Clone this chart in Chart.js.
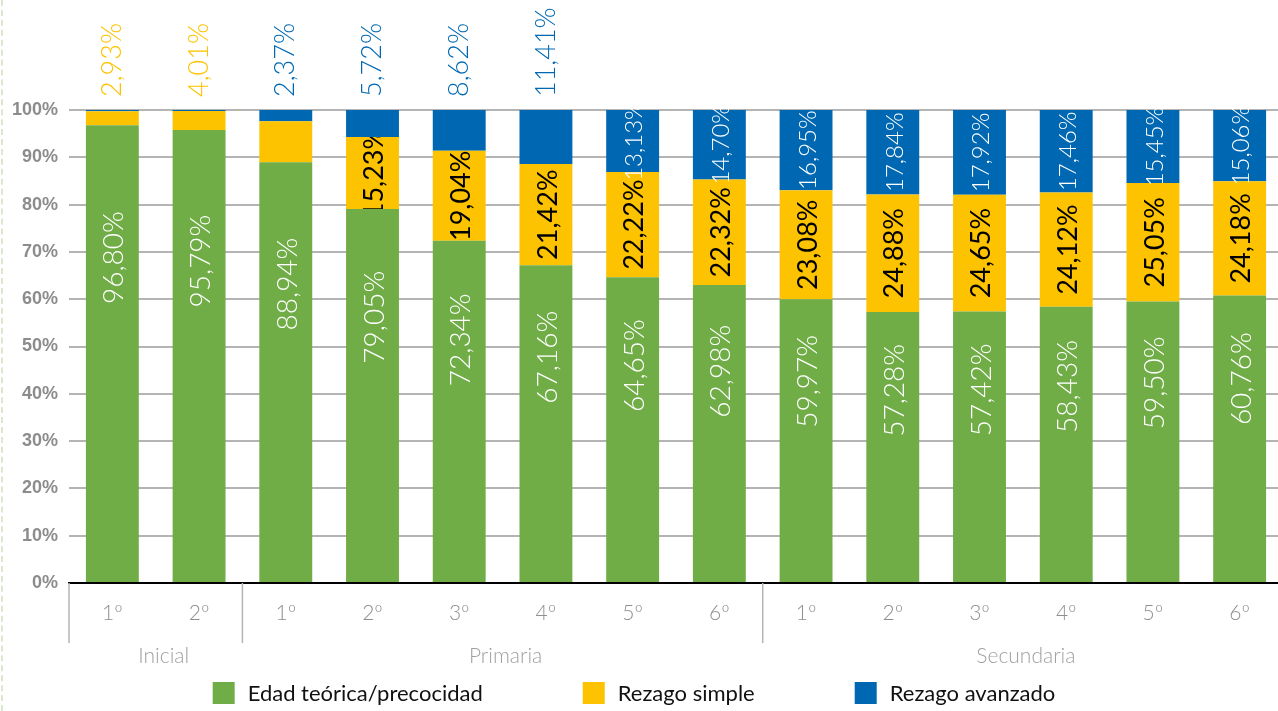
<!DOCTYPE html>
<html>
<head>
<meta charset="utf-8">
<script src="https://cdn.jsdelivr.net/npm/chart.js@4.4.1/dist/chart.umd.min.js"></script>
<style>
  body { margin: 0; overflow: hidden; background: #fff; }
  .wrap { position: relative; width: 1284px; height: 711px; }
  .edge { position: absolute; left: 1px; top: 0; height: 711px; border-left: 2px dashed #dbe8cf; }
</style>
</head>
<body>
<div class="wrap"><canvas id="myChart"></canvas></div>
<div class="edge"></div>
<script>
const grades = ['1º', '2º', '1º', '2º', '3º', '4º', '5º', '6º', '1º', '2º', '3º', '4º', '5º', '6º'];
const levels = ['Inicial', 'Primaria', 'Secundaria'];
const levelSizes = [2, 6, 6];
const edadTeorica = [96.80, 95.79, 88.94, 79.05, 72.34, 67.16, 64.65, 62.98, 59.97, 57.28, 57.42, 58.43, 59.50, 60.76];
const rezagoSimple = [2.93, 4.01, 8.69, 15.23, 19.04, 21.42, 22.22, 22.32, 23.08, 24.88, 24.65, 24.12, 25.05, 24.18];
const rezagoAvanzado = [0.27, 0.20, 2.37, 5.72, 8.62, 11.41, 13.13, 14.70, 16.95, 17.84, 17.92, 17.46, 15.45, 15.06];
const seriesNames = ['Edad teórica/precocidad', 'Rezago simple', 'Rezago avanzado'];

const green = '#70ad47';
const yellow = '#fdc300';
const blue = '#0068b3';
const fmt = v => v.toFixed(2).replace('.', ',') + '%';

// rotated label helper
const vert = (ctx, text, x, y, color, font, align) => {
    ctx.save();
    ctx.translate(x, y);
    ctx.rotate(-Math.PI / 2);
    ctx.textAlign = align || 'center';
    ctx.textBaseline = 'middle';
    ctx.fillStyle = color;
    ctx.font = font;
    ctx.fillText(text, 0, 0);
    ctx.restore();
};

const barLabels = {
    id: 'barLabels',
    afterDatasetsDraw(chart) {
        const { ctx, chartArea } = chart;
        const g = chart.getDatasetMeta(0).data;
        const s = chart.getDatasetMeta(1).data;
        const a = chart.getDatasetMeta(2).data;
        const above = chartArea.top - 13;
        grades.forEach((_, i) => {
            const gb = g[i];
            vert(ctx, fmt(edadTeorica[i]), gb.x + 2, gb.y + (gb.base - gb.y) * 0.29, '#fff', '300 28px Lato');

            const sb = s[i];
            if (rezagoSimple[i] > 10) {
                ctx.save();
                ctx.beginPath();
                ctx.rect(sb.x - 40, sb.y, 80, sb.base - sb.y);
                ctx.clip();
                vert(ctx, fmt(rezagoSimple[i]), sb.x + 2, (sb.y + sb.base) / 2, '#000', '400 27px Lato');
                ctx.restore();
            }

            const ab = a[i];
            if (rezagoAvanzado[i] < 1) {
                vert(ctx, fmt(rezagoSimple[i]), ab.x, above, yellow, '300 27px Lato', 'left');
            } else if (rezagoAvanzado[i] < 12) {
                vert(ctx, fmt(rezagoAvanzado[i]), ab.x, above, blue, '300 27px Lato', 'left');
            } else {
                vert(ctx, fmt(rezagoAvanzado[i]), ab.x + 2, (ab.y + ab.base) / 2, '#fff', '300 24px Lato');
            }
        });
    }
};

const groupAxis = {
    id: 'groupAxis',
    afterDraw(chart) {
        const { ctx, chartArea, scales: { x } } = chart;
        const step = x.getPixelForValue(1) - x.getPixelForValue(0);
        const bottom = chartArea.bottom;
        ctx.save();
        ctx.strokeStyle = '#b4b4b4';
        ctx.lineWidth = 1.5;
        const sep = px => {
            ctx.beginPath();
            ctx.moveTo(px, bottom);
            ctx.lineTo(px, bottom + 60);
            ctx.stroke();
        };
        ctx.font = '300 21px Lato';
        ctx.fillStyle = '#a0a0a0';
        ctx.textAlign = 'center';
        ctx.textBaseline = 'middle';
        let start = 0;
        sep(x.getPixelForValue(0) - step / 2);
        levels.forEach((name, k) => {
            const end = start + levelSizes[k] - 1;
            const left = x.getPixelForValue(start) - step / 2;
            const right = x.getPixelForValue(end) + step / 2;
            sep(right);
            ctx.fillText(name, (left + right) / 2 + (k === 0 ? 8 : 3), bottom + 73);
            start = end + 1;
        });
        ctx.restore();
    }
};

const bottomLegend = {
    id: 'bottomLegend',
    afterDraw(chart) {
        const { ctx } = chart;
        const box = 22, gapText = 13, gapItem = 100, cy = 693;
        ctx.save();
        ctx.font = '400 22px Lato';
        ctx.textBaseline = 'middle';
        ctx.textAlign = 'left';
        const items = chart.data.datasets.map(d => ({ text: d.label, color: d.backgroundColor, w: box + gapText + ctx.measureText(d.label).width }));
        const total = items.reduce((t, it) => t + it.w, 0) + gapItem * (items.length - 1);
        let x = 634 - total / 2;
        items.forEach(it => {
            ctx.fillStyle = it.color;
            ctx.fillRect(x, cy - box / 2, box, box);
            ctx.fillStyle = '#111';
            ctx.fillText(it.text, x + box + gapText, cy + 1);
            x += it.w + gapItem;
        });
        ctx.restore();
    }
};

Chart.defaults.font.family = 'Lato';

const ctx = document.getElementById('myChart').getContext('2d');
let myChart = new Chart(ctx, {
    type: 'bar',
    data: {
        labels: grades,
        datasets: [
            { label: seriesNames[0], data: edadTeorica, backgroundColor: green },
            { label: seriesNames[1], data: rezagoSimple, backgroundColor: yellow },
            { label: seriesNames[2], data: rezagoAvanzado, backgroundColor: blue }
        ]
    },
    options: {
        responsive: true,
        maintainAspectRatio: false,
        animation: false,
        layout: { padding: { top: 110, bottom: 28, left: 0, right: 1 } },
        datasets: { bar: { categoryPercentage: 1, barPercentage: 0.61, borderWidth: 0 } },
        plugins: { legend: { display: false }, tooltip: { enabled: false } },
        scales: {
            x: {
                stacked: true,
                grid: { display: true, drawOnChartArea: false, drawTicks: false },
                border: { display: true, color: '#000', width: 2 },
                ticks: { color: '#8f8f8f', font: { size: 21, weight: 300 }, padding: 18 },
                afterFit: scale => { scale.height = 100; }
            },
            y: {
                stacked: true,
                min: 0,
                max: 100,
                grid: { color: '#b4b4b4', lineWidth: 2, drawTicks: false },
                border: { display: false },
                ticks: {
                    stepSize: 10,
                    padding: 11,
                    color: '#8c8c8c',
                    font: { family: "'Liberation Sans', sans-serif", size: 18, weight: 'bold' },
                    callback: v => v + '%'
                },
                afterFit: scale => { scale.width = 69; }
            }
        }
    },
    plugins: [barLabels, groupAxis, bottomLegend]
});
</script>
</body>
</html>
